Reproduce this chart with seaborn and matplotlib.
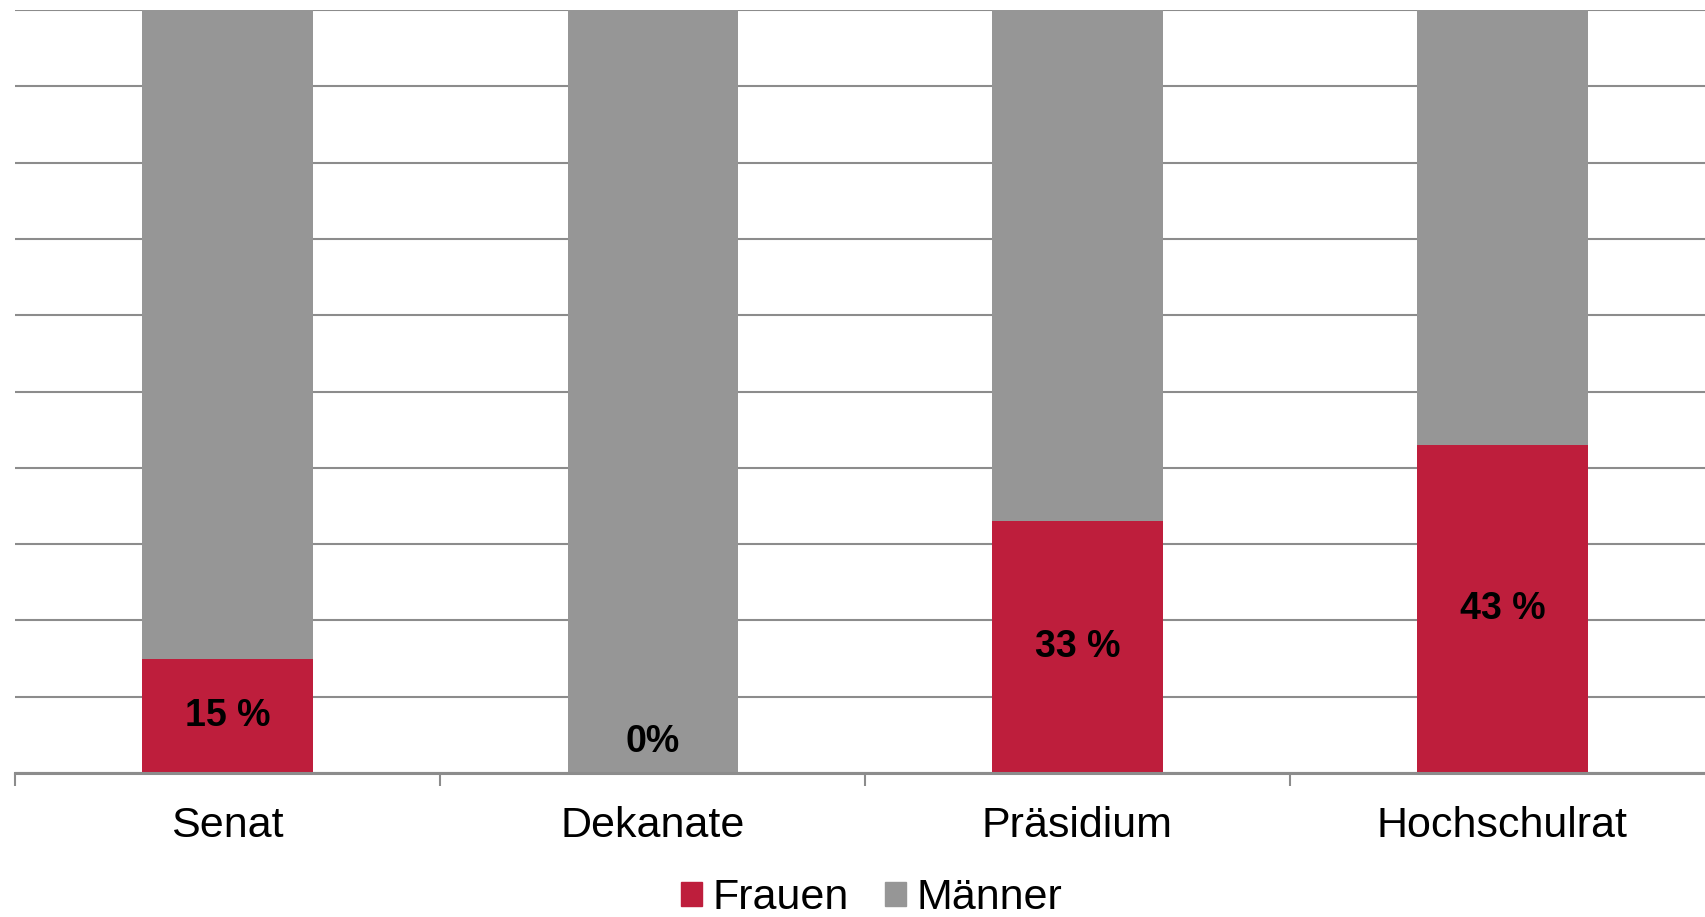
import matplotlib.pyplot as plt
import matplotlib.patches as mpatches
import seaborn as sns
import pandas as pd

categories = ["Senat", "Dekanate", "Präsidium", "Hochschulrat"]
frauen = [15, 0, 33, 43]
maenner = [85, 100, 67, 57]
value_labels = ["15 %", "0%", "33 %", "43 %"]

RED = "#be1e3c"
GRAY = "#969696"
LINE = "#8c8c8c"


def main() -> None:
    sns.set_theme(style="white")
    plt.rcParams["font.family"] = ["Liberation Sans", "DejaVu Sans"]

    df = pd.DataFrame({"gremium": categories, "frauen": frauen, "maenner": maenner})
    df["gesamt"] = df["frauen"] + df["maenner"]

    fig = plt.figure(figsize=(17.06, 9.17), dpi=100)
    ax = fig.add_axes([15 / 1706, 144 / 917, 1700 / 1706, 763 / 917])

    sns.barplot(data=df, x="gremium", y="gesamt", color=GRAY, width=0.4,
                saturation=1, linewidth=0, ax=ax, zorder=2)
    sns.barplot(data=df, x="gremium", y="frauen", color=RED, width=0.4,
                saturation=1, linewidth=0, ax=ax, zorder=3)

    ax.set_xlim(-0.5, len(categories) - 0.5)
    ax.set_ylim(0, 100)
    ax.set_yticks(range(0, 101, 10))
    ax.set_yticklabels([])
    ax.yaxis.grid(True, color=LINE, linewidth=1.5, zorder=1)
    ax.set_axisbelow(True)
    ax.tick_params(axis="y", length=0)

    for side in ["left", "right", "top"]:
        ax.spines[side].set_visible(False)
    ax.spines["bottom"].set_color(LINE)
    ax.spines["bottom"].set_linewidth(2.2)
    ax.spines["bottom"].set_zorder(4)

    # category boundary ticks, pointing down
    ax.set_xticks([i - 0.5 for i in range(len(categories) + 1)], minor=True)
    ax.tick_params(axis="x", which="minor", bottom=True, length=9.5, width=1.5,
                   color=LINE, direction="out")
    ax.tick_params(axis="x", which="major", bottom=False, length=0, pad=24,
                   labelsize=31, labelcolor="black")
    ax.set_xlabel("")
    ax.set_ylabel("")

    for i, (val, lab) in enumerate(zip(frauen, value_labels)):
        ax.text(i, max(val / 2, 4), lab, ha="center", va="center",
                fontsize=27, fontweight="bold", color="black", zorder=5)

    handles = [mpatches.Patch(color=RED, label="Frauen"),
               mpatches.Patch(color=GRAY, label="Männer")]
    leg = ax.legend(handles=handles, loc="center", bbox_to_anchor=(0.504, -0.164), ncol=2,
                    frameon=False, fontsize=31, handlelength=0.48, handleheight=0.48,
                    handletextpad=0.25, columnspacing=0.85)
    for t in leg.get_texts():
        t.set_color("black")

    fig.savefig("out.png", dpi=100)
    plt.close(fig)


if __name__ == "__main__":
    main()
